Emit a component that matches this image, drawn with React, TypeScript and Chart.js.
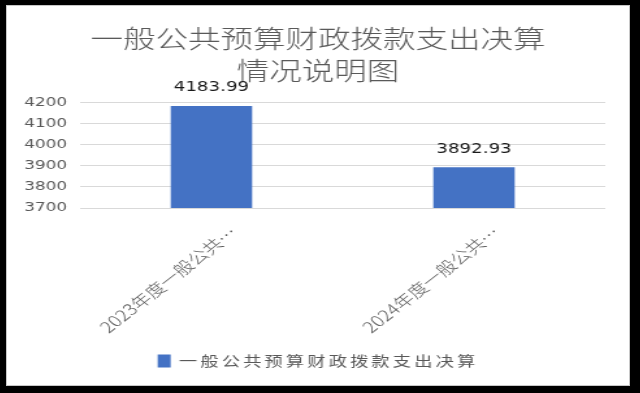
import { useEffect, useRef } from "react";
import { Chart, registerables } from "chart.js";

Chart.register(...registerables);

// Chart content
const titleLines = ["一般公共预算财政拨款支出决算", "情况说明图"];
const seriesName = "一般公共预算财政拨款支出决算";
const categories = [
  "2023年度一般公共预算财政拨款支出决算",
  "2024年度一般公共预算财政拨款支出决算",
];
const values = [4183.99, 3892.93];
const yMin = 3700;
const yMax = 4200;
const yStep = 100;

// The chart is laid out narrow and widened horizontally on screen.
const STRETCH = 1.3;
const PANEL_W = 624;
const PANEL_H = 381;
const CANVAS_W = PANEL_W / STRETCH;

const BAR_COLOR = "#4472C4";
const TEXT_GRAY = "#595959";
const CJK = "'Noto Sans CJK SC', 'Noto Sans', sans-serif";
const NUM = "'DejaVu Sans', sans-serif";

const valueLabels = {
  id: "valueLabels",
  afterDatasetsDraw(chart: any) {
    const { ctx } = chart;
    chart.data.datasets.forEach((ds: any, di: number) => {
      const meta = chart.getDatasetMeta(di);
      meta.data.forEach((bar: any, i: number) => {
        const v = ds.data[i] as number;
        ctx.save();
        ctx.font = `14px ${NUM}`;
        ctx.fillStyle = "#1a1a1a";
        ctx.textAlign = "center";
        ctx.textBaseline = "middle";
        ctx.fillText(v.toFixed(2), bar.x, bar.y - 18.5);
        ctx.restore();
      });
    });
  },
};

const seriesKey = {
  id: "seriesKey",
  afterDraw(chart: any) {
    const { ctx } = chart;
    const ds = chart.data.datasets[0];
    ctx.save();
    ctx.font = `14px ${CJK}`;
    (ctx as any).letterSpacing = "2.45px";
    const textW = ctx.measureText(ds.label).width;
    const boxW = 10;
    const boxH = 13;
    const gap = 6.4;
    const total = boxW + gap + textW;
    const x0 = (chart.width - total) / 2;
    const y = chart.height - 25;
    ctx.fillStyle = ds.backgroundColor;
    ctx.fillRect(x0, y - boxH / 2, boxW, boxH);
    ctx.fillStyle = TEXT_GRAY;
    ctx.textAlign = "left";
    ctx.textBaseline = "middle";
    ctx.fillText(ds.label, x0 + boxW + gap, y);
    ctx.restore();
  },
};

export default function App() {
  const canvasRef = useRef<HTMLCanvasElement | null>(null);

  useEffect(() => {
    if (!canvasRef.current) return;
    const chart = new Chart(canvasRef.current, {
      type: "bar",
      data: {
        labels: categories,
        datasets: [
          {
            label: seriesName,
            data: values,
            backgroundColor: BAR_COLOR,
            barPercentage: 0.31,
            categoryPercentage: 1,
          },
        ],
      },
      options: {
        animation: false,
        responsive: true,
        maintainAspectRatio: false,
        devicePixelRatio: 1,
        layout: { padding: { top: 0, left: 0, right: 0, bottom: 38 } },
        plugins: {
          legend: { display: false },
          tooltip: { enabled: false },
          title: {
            display: true,
            text: titleLines,
            color: TEXT_GRAY,
            font: { family: CJK, size: 25, weight: "300", lineHeight: 32 / 25 },
            padding: { top: 17, bottom: 16.7 },
          },
        },
        scales: {
          x: {
            grid: { display: false, drawTicks: false },
            border: { display: false },
            ticks: {
              color: TEXT_GRAY,
              font: { family: CJK, size: 15.5, weight: "300" },
              minRotation: 45,
              maxRotation: 45,
              padding: 15,
              labelOffset: 17,
              autoSkip: false,
              callback(_v: any, i: number) {
                const s = categories[i];
                return s.length > 10 ? s.slice(0, 10) + "…" : s;
              },
            },
            afterFit(s: any) {
              s.height = 140;
            },
          },
          y: {
            min: yMin,
            max: yMax,
            grid: { color: "#d9d9d9", drawTicks: false },
            border: { display: false },
            ticks: {
              stepSize: yStep,
              color: TEXT_GRAY,
              font: { family: NUM, size: 13 },
              padding: 10,
              callback(v: any) {
                return String(v);
              },
            },
            afterFit(s: any) {
              s.width = 57;
            },
          },
          // empty right-hand margin column so the title stays centred on the panel
          yRight: {
            position: "right",
            display: true,
            grid: { display: false, drawTicks: false },
            border: { display: false },
            ticks: { display: false },
            afterFit(s: any) {
              s.width = 19;
            },
          },
        },
      },
      plugins: [valueLabels, seriesKey],
    });
    return () => chart.destroy();
  }, []);

  return (
    <div
      style={{
        position: "fixed",
        left: 0,
        top: 0,
        width: 640,
        height: 393,
        background: "#000",
        overflow: "hidden",
      }}
    >
      <div
        style={{
          position: "absolute",
          left: 6,
          top: 5,
          width: PANEL_W,
          height: PANEL_H,
          boxSizing: "border-box",
          background: "#fff",
          border: "1px solid #c8c8c8",
        }}
      />
      <div
        style={{
          position: "absolute",
          left: 6,
          top: 5,
          width: CANVAS_W,
          height: PANEL_H,
          transform: `scaleX(${STRETCH})`,
          transformOrigin: "0 0",
        }}
      >
        <canvas ref={canvasRef} />
      </div>
    </div>
  );
}
